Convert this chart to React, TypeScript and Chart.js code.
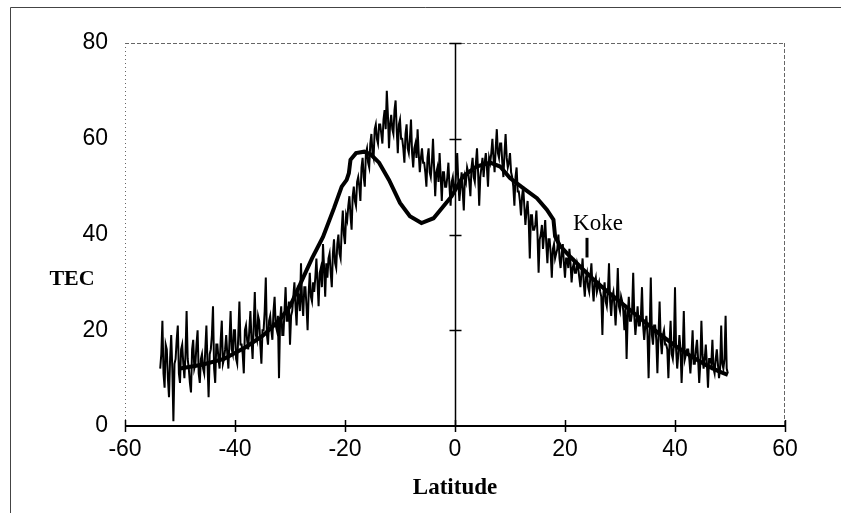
import React, { useEffect, useRef } from "react";
import { Chart, registerables } from "chart.js";

Chart.register(...registerables);

// ---------- data ----------
const X_TICKS = [-60, -40, -20, 0, 20, 40, 60];
const Y_TICKS = [0, 20, 40, 60, 80];

// noisy measured TEC, sampled every 0.2 deg of latitude starting at -53.6
const NOISE_LAT_START = -53.6;
const NOISE_LAT_STEP = 0.2;
const NOISE_TEC = [
  12, 15, 22, 11, 8, 17, 16, 10, 6, 14, 19, 12, 1, 13, 14, 18, 21, 11, 9, 16,
  17, 13, 10, 15, 24, 14, 12, 9, 7, 16, 18, 12, 13, 17, 20, 11, 9, 14, 15, 12,
  11, 16, 21, 13, 6, 15, 16, 19, 25, 12, 9, 17, 17, 14, 12, 18, 22, 13, 14, 16,
  19, 15, 12, 18, 24, 16, 15, 20, 20, 14, 13, 19, 26, 17, 17, 15, 11, 20, 21, 18,
  16, 20, 24, 18, 14, 21, 28, 19, 18, 23, 22, 17, 13, 20, 20, 24, 31, 19, 17, 22,
  23, 20, 18, 24, 27, 21, 20, 23, 10, 22, 25, 19, 19, 24, 29, 22, 22, 26, 17, 23,
  24, 27, 30, 25, 21, 28, 27, 24, 34, 26, 23, 29, 29, 25, 20, 28, 32, 27, 26, 30,
  28, 31, 35, 30, 25, 32, 33, 29, 38, 33, 27, 34, 31, 35, 36, 32, 29, 36, 39, 34,
  33, 38, 40, 36, 35, 41, 45, 40, 38, 44, 43, 46, 48, 44, 41, 48, 50, 47, 46, 51,
  52, 50, 47, 54, 56, 52, 50, 57, 58, 55, 54, 59, 61, 57, 56, 62, 63, 60, 59, 63,
  63, 61, 59, 64, 66, 62, 70, 65, 58, 63, 65, 62, 61, 66, 68, 62, 57, 63, 64, 60,
  60, 58, 55, 61, 63, 58, 57, 60, 64, 57, 54, 58, 59, 56, 62, 57, 53, 56, 58, 55,
  55, 53, 50, 56, 58, 53, 52, 55, 60, 54, 48, 53, 54, 51, 57, 52, 47, 53, 53, 50,
  50, 52, 55, 50, 46, 51, 52, 49, 49, 53, 57, 51, 47, 50, 53, 49, 45, 52, 51, 54,
  53, 51, 48, 54, 56, 52, 51, 55, 58, 53, 46, 52, 54, 56, 52, 55, 57, 54, 50, 56,
  55, 57, 60, 56, 53, 58, 62, 57, 56, 59, 59, 55, 52, 57, 61, 56, 54, 55, 57, 53,
  52, 50, 46, 52, 54, 49, 49, 47, 44, 48, 50, 46, 42, 45, 47, 43, 35, 44, 44, 41,
  41, 42, 45, 40, 32, 39, 40, 42, 37, 40, 43, 38, 34, 39, 39, 36, 31, 37, 38, 35,
  36, 37, 40, 35, 33, 36, 38, 34, 31, 35, 35, 33, 37, 34, 30, 33, 34, 32, 32, 34,
  33, 31, 29, 32, 35, 30, 27, 31, 32, 29, 28, 31, 34, 29, 26, 30, 31, 28, 29, 30,
  28, 27, 19, 28, 30, 26, 25, 28, 34, 26, 23, 27, 28, 25, 21, 26, 33, 25, 24, 27,
  26, 24, 20, 25, 14, 23, 27, 22, 22, 24, 32, 23, 19, 22, 25, 21, 21, 23, 29, 21,
  18, 21, 23, 19, 10, 20, 31, 19, 17, 21, 21, 18, 11, 19, 26, 18, 15, 19, 20, 17,
  17, 16, 10, 17, 22, 15, 14, 17, 29, 16, 12, 15, 19, 16, 9, 15, 24, 14, 15, 16,
  16, 14, 11, 15, 20, 13, 13, 16, 18, 14, 9, 13, 22, 15, 12, 14, 17, 13, 8, 14,
  14, 13, 18, 12, 11, 14, 16, 13, 10, 12, 21, 13, 12, 14, 23, 12, 11,
];

// smooth model curve
const MODEL_LAT = [
  -50, -46, -42, -38, -35, -32, -30, -28, -26, -24, -22, -20.6, -19.7, -19.3, -19.0,
  -18, -16.5, -15.3, -13.8, -12, -10, -8.2, -6.1, -3.9, -2.1, -0.6, 1.5, 3.9, 6.4,
  8.2, 10, 12.4, 14.9, 16.7, 17.9, 18.2, 19, 21, 23, 25, 28, 31, 34, 37, 40, 43, 46,
  48, 49.6,
];
const MODEL_TEC = [
  12, 12.8, 14, 16.5, 18.8, 22, 25, 30, 35, 39.5, 45.5, 50, 51.4, 52.8, 55.6,
  57, 57.3, 56.7, 55, 51.4, 46.6, 43.8, 42.4, 43.4, 45.9, 48, 52.2, 54.2, 55,
  54.2, 51.8, 49.7, 47.6, 45.2, 43.1, 39.6, 37.8, 35.3, 33, 30.8, 27.8, 25, 22.2, 19.4, 16.8, 14.5, 12.5,
  11.4, 10.7,
];

// "Koke" annotation
const KOKE_LABEL = "Koke";
const KOKE_LAT = 24;
const KOKE_TEC_RANGE = [35.2, 39.3];
const KOKE_TEXT_LAT = 26;
const KOKE_TEXT_TEC = 42.3;

const X_TITLE = "Latitude";
const Y_TITLE = "TEC";

const TICK_FONT = "'Liberation Sans', Arial, sans-serif";
const SERIF = "'Liberation Serif', 'Times New Roman', serif";

export default function App() {
  const ref = useRef<HTMLCanvasElement | null>(null);

  useEffect(() => {
    if (!ref.current) return;
    const noise = NOISE_TEC.map((v, i) => ({
      x: +(NOISE_LAT_START + i * NOISE_LAT_STEP).toFixed(1),
      y: v,
    }));
    const model = MODEL_LAT.map((x, i) => ({ x, y: MODEL_TEC[i] }));
    const marker = KOKE_TEC_RANGE.map((y) => ({ x: KOKE_LAT, y }));

    const frame = {
      id: "frame",
      beforeDatasetsDraw(chart: any) {
        const { ctx, chartArea: a, scales } = chart;
        const xs = scales.x;
        const ys = scales.y;
        ctx.save();
        ctx.strokeStyle = "#444";
        ctx.lineWidth = 1;
        ctx.beginPath();
        ctx.moveTo(10.5, 513);
        ctx.lineTo(10.5, 7.5);
        ctx.lineTo(841, 7.5);
        ctx.stroke();
        ctx.strokeStyle = "#666";
        ctx.setLineDash([4, 2]);
        ctx.beginPath();
        ctx.moveTo(a.left, a.top + 0.5);
        ctx.lineTo(a.right, a.top + 0.5);
        ctx.moveTo(a.right - 0.5, a.top);
        ctx.lineTo(a.right - 0.5, a.bottom);
        ctx.stroke();
        ctx.setLineDash([1, 3]);
        ctx.beginPath();
        ctx.moveTo(a.left + 0.5, a.top);
        ctx.lineTo(a.left + 0.5, a.bottom);
        ctx.stroke();
        ctx.setLineDash([]);
        ctx.strokeStyle = "#000";
        ctx.lineWidth = 2;
        ctx.beginPath();
        ctx.moveTo(a.left, a.bottom);
        ctx.lineTo(a.right, a.bottom);
        ctx.stroke();
        ctx.lineWidth = 1.5;
        ctx.beginPath();
        X_TICKS.forEach((v) => {
          const px = Math.round(xs.getPixelForValue(v)) + 0.5;
          ctx.moveTo(px, a.bottom - 6);
          ctx.lineTo(px, a.bottom + 6);
        });
        ctx.stroke();
        const x0 = Math.round(xs.getPixelForValue(0)) + 0.5;
        ctx.beginPath();
        ctx.moveTo(x0, a.top);
        ctx.lineTo(x0, a.bottom);
        Y_TICKS.forEach((v) => {
          if (v === 0) return;
          const py = Math.round(ys.getPixelForValue(v)) + 0.5;
          ctx.moveTo(x0 - 6, py);
          ctx.lineTo(x0 + 6, py);
        });
        ctx.stroke();
        ctx.restore();
      },
      afterDatasetsDraw(chart: any) {
        const { ctx, chartArea: a, scales } = chart;
        const xs = scales.x;
        const ys = scales.y;
        ctx.save();
        ctx.fillStyle = "#000";
        ctx.textAlign = "center";
        ctx.textBaseline = "middle";
        ctx.font = `23px ${SERIF}`;
        ctx.fillText(KOKE_LABEL, xs.getPixelForValue(KOKE_TEXT_LAT), ys.getPixelForValue(KOKE_TEXT_TEC));
        ctx.font = `bold 22px ${SERIF}`;
        ctx.fillText(Y_TITLE, 72, a.top + 236);
        ctx.font = `bold 23px ${SERIF}`;
        ctx.fillText(X_TITLE, xs.getPixelForValue(0), a.bottom + 62);
        ctx.restore();
      },
    };

    const chart = new Chart(ref.current, {
      type: "scatter",
      data: {
        datasets: [
          {
            data: marker,
            showLine: true,
            borderColor: "#000",
            borderWidth: 3,
            pointRadius: 0,
          },
          {
            data: model,
            showLine: true,
            borderColor: "#000",
            borderWidth: 4,
            pointRadius: 0,
            tension: 0,
          },
          {
            data: noise,
            showLine: true,
            borderColor: "#000",
            borderWidth: 2,
            pointRadius: 0,
            tension: 0,
          },
        ],
      },
      options: {
        responsive: false,
        animation: false,
        devicePixelRatio: 1,
        layout: { padding: { left: 0, top: 43, right: 56, bottom: 0 } },
        plugins: {
          legend: { display: false },
          tooltip: { enabled: false },
        },
        scales: {
          x: {
            type: "linear",
            min: -60,
            max: 60,
            afterBuildTicks: (s: any) => {
              s.ticks = X_TICKS.map((v) => ({ value: v }));
            },
            afterFit: (s: any) => {
              s.height = 87;
            },
            grid: { display: false, drawTicks: false },
            border: { display: false },
            ticks: {
              autoSkip: false,
              maxRotation: 0,
              padding: 10,
              color: "#000",
              font: { family: TICK_FONT, size: 23 },
              callback: (v: any) => String(v),
            },
          },
          y: {
            type: "linear",
            min: 0,
            max: 80,
            afterBuildTicks: (s: any) => {
              s.ticks = Y_TICKS.map((v) => ({ value: v }));
            },
            afterFit: (s: any) => {
              s.width = 125;
            },
            grid: { display: false, drawTicks: false },
            border: { display: false },
            ticks: {
              autoSkip: false,
              padding: 17,
              color: "#000",
              font: { family: TICK_FONT, size: 23 },
              callback: (v: any) => String(v),
            },
          },
        },
      },
      plugins: [frame],
    } as any);

    return () => chart.destroy();
  }, []);

  return (
    <div style={{ position: "absolute", left: 0, top: 0, width: 841, height: 513, background: "#fff" }}>
      <canvas ref={ref} width={841} height={513} style={{ display: "block" }} />
    </div>
  );
}
